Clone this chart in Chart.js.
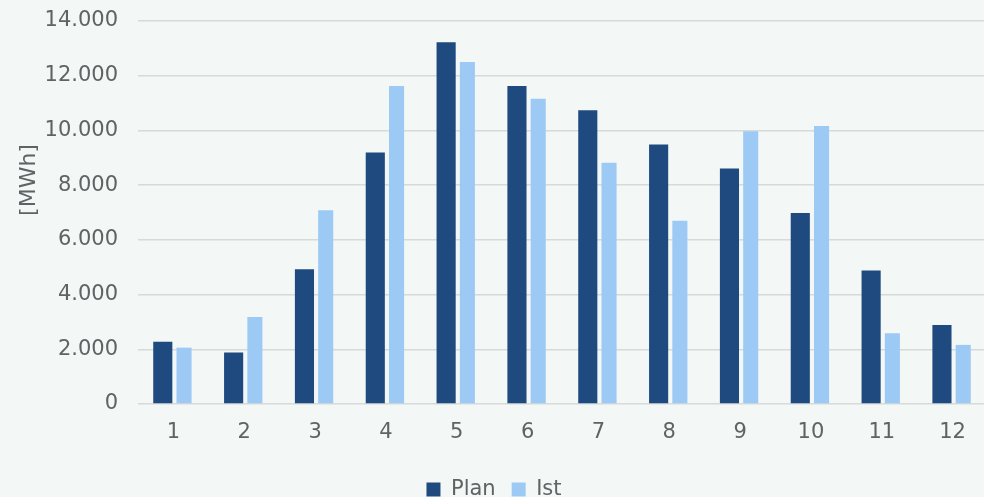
<!DOCTYPE html>
<html>
<head>
<meta charset="utf-8">
<script src="https://cdn.jsdelivr.net/npm/chart.js@4"></script>
<style>
  html, body { margin: 0; padding: 0; background: #f3f7f6; overflow: hidden; }
  #wrap { position: absolute; left: 0; top: 0; width: 1000px; height: 510px; }
</style>
</head>
<body>
<div id="wrap"><canvas id="c"></canvas></div>
<script>
const categories = ['1','2','3','4','5','6','7','8','9','10','11','12'];
const planValues = [2280, 1880, 4930, 9190, 13220, 11620, 10740, 9490, 8610, 6980, 4880, 2890];
const istValues  = [2060, 3180, 7080, 11620, 12500, 11160, 8820, 6700, 9970, 10160, 2590, 2160];
const seriesNames = ['Plan', 'Ist'];
const yAxisTitle = '[MWh]';
const yMin = 0, yMax = 14000, yStep = 2000;

const textColor = '#5f6363';
const fontFamily = '"DejaVu Sans", sans-serif';

function fmt(v) {
  return String(v).replace(/\B(?=(\d{3})+(?!\d))/g, '.');
}

const yTitlePlugin = {
  id: 'yTitle',
  afterDraw(chart) {
    const ctx = chart.ctx;
    ctx.save();
    ctx.translate(29, 180);
    ctx.rotate(-Math.PI / 2);
    ctx.font = '22px ' + fontFamily;
    ctx.fillStyle = textColor;
    ctx.textAlign = 'center';
    ctx.textBaseline = 'middle';
    ctx.fillText(yAxisTitle, 0, 0);
    ctx.restore();
  }
};

new Chart(document.getElementById('c'), {
  type: 'bar',
  data: {
    labels: categories,
    datasets: [
      { label: seriesNames[0], data: planValues, backgroundColor: '#1f4a7f', borderWidth: 0,
        barPercentage: 0.9, categoryPercentage: 0.6 },
      { label: seriesNames[1], data: istValues, backgroundColor: '#9dcaf5', borderWidth: 0,
        barPercentage: 0.71, categoryPercentage: 0.6 }
    ]
  },
  options: {
    responsive: true,
    maintainAspectRatio: false,
    animation: false,
    devicePixelRatio: 1,
    layout: { padding: { top: 21, right: 12, left: 0, bottom: 0 } },
    plugins: {
      legend: {
        position: 'bottom',
        labels: {
          color: textColor,
          font: { family: fontFamily, size: 21 },
          boxWidth: 14,
          boxHeight: 14,
          padding: 16
        }
      },
      tooltip: { enabled: false },
      title: { display: false }
    },
    scales: {
      x: {
        grid: { display: false, drawTicks: false },
        border: { display: false },
        ticks: { color: textColor, font: { family: fontFamily, size: 21 }, padding: 16 },
        afterFit(scale) { scale.height = 59; }
      },
      y: {
        min: yMin,
        max: yMax,
        grid: { color: '#d7dad9', lineWidth: 1.5, drawTicks: true, tickLength: 20, tickColor: 'rgba(0,0,0,0)' },
        border: { display: false },
        ticks: {
          stepSize: yStep,
          color: textColor,
          font: { family: fontFamily, size: 21 },
          padding: 0,
          callback: (v) => fmt(v)
        },
        afterFit(scale) { scale.width = 138; }
      }
    }
  },
  plugins: [yTitlePlugin]
});
</script>
</body>
</html>
